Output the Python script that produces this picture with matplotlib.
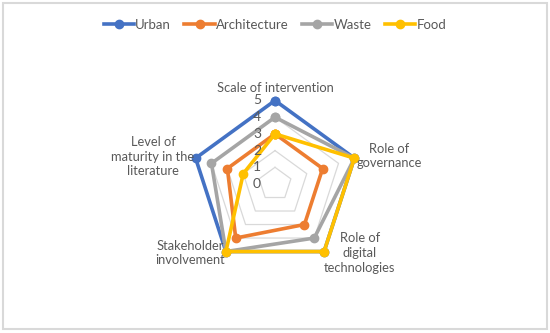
import numpy as np
import matplotlib
matplotlib.use("Agg")
import matplotlib.pyplot as plt
from matplotlib.patches import Rectangle

categories = ["Scale of intervention", "Role of\ngovernance", "Role of\ndigital\ntechnologies",
              "Stakeholder\ninvolvement", "Level of\nmaturity in the\nliterature"]
series_names = ["Urban", "Architecture", "Waste", "Food"]
urban = [5, 5, 5, 5, 5]
architecture = [3, 3, 3, 4, 3]
waste = [4, 5, 4, 5, 4]
food = [3, 5, 5, 5, 2]
tick_values = [0, 1, 2, 3, 4, 5]
colors = ["#4472C4", "#ED7D31", "#A5A5A5", "#FFC000"]

plt.rcParams['font.family'] = ['Lato', 'DejaVu Sans']
W, H = 550, 333
fig = plt.figure(figsize=(W / 100, H / 100), dpi=100)
fig.patch.set_facecolor("white")
fig.add_artist(Rectangle((3 / W, 4 / H), 544 / W, 326 / H, transform=fig.transFigure,
                         fill=False, edgecolor="#d9d9d9", linewidth=1.5))

cx, cy, R = 275, 184, 83.5
ax = fig.add_axes([(cx - R) / W, (H - cy - R) / H, 2 * R / W, 2 * R / H], projection="polar")
ax.set_theta_offset(np.pi / 2)
ax.set_theta_direction(-1)
ax.set_ylim(0, 5)
ax.axis("off")

n = len(categories)
angles = np.linspace(0, 2 * np.pi, n, endpoint=False)
ang_c = np.concatenate([angles, angles[:1]])

for t in tick_values[1:]:
    ax.plot(ang_c, [t] * (n + 1), color="#d9d9d9", lw=0.9, zorder=1)

for name, vals, c in zip(series_names, [urban, architecture, waste, food], colors):
    v = list(vals) + [vals[0]]
    ax.plot(ang_c, v, color=c, lw=2.6, marker="o", ms=6, label=name, zorder=3,
            clip_on=False)

for t in tick_values:
    ax.annotate(str(t), (0, t), xytext=(-10, 0), textcoords="offset points",
                ha="right", va="center", fontsize=10, color="#595959", zorder=4)

label_pos = [(275, 88), (389, 156), (360, 253), (190, 253), (153, 157)]
for lab, (x, y) in zip(categories, label_pos):
    fig.text(x / W, 1 - y / H, lab, ha="center", va="center", fontsize=9.3,
             color="#595959", linespacing=1.25)

handles, labels = ax.get_legend_handles_labels()
fig.legend(handles, labels, loc="center", bbox_to_anchor=(0.5, 1 - 25 / H), ncol=4,
           frameon=False, fontsize=9.5, handlelength=2.3, columnspacing=1.0,
           handletextpad=0.1, labelcolor="#595959")

fig.savefig("out.png", dpi=100, facecolor="white")
